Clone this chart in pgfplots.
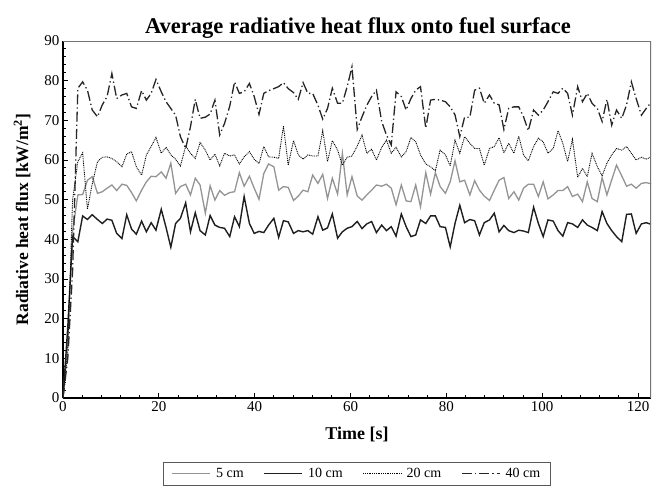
\documentclass[border=0pt]{standalone}
\usepackage{fontspec}
\setmainfont{Liberation Serif}
\usepackage{pgfplots}
\usepackage{pgfplotstable}
\pgfplotsset{compat=1.18}

% time [s], then radiative heat flux [kW/m2] at 5, 10, 20 and 40 cm
\pgfplotstableread{
t     g5    b10   d20   dd40
0.0   0     0     0     0
1.0   15    18    12    10
2.0   42    40.7  50    32
3.1   51.2  39.4  59.6  78.1
4.1   51.3  45.9  61.8  79.7
5.1   54.9  45.0  47.6  77.6
6.1   55.8  46.2  54.0  72.6
7.2   51.6  45.0  59.6  70.9
8.2   52.0  44.0  60.7  73.9
9.2   52.9  45.1  60.8  76.0
10.2  53.7  44.8  60.4  81.8
11.2  52.3  41.5  59.6  75.5
12.3  53.9  40.2  58.3  76.4
13.3  53.6  46.2  61.5  76.8
14.3  51.8  42.6  62.1  73.4
15.3  49.7  41.3  58.3  73.0
16.4  52.4  44.6  56.2  77.5
17.4  54.5  41.9  61.3  75.1
18.4  55.9  44.2  63.4  76.8
19.4  55.8  42.3  65.7  80.3
20.5  57.0  47.6  61.7  77.2
21.5  55.4  43.0  63.2  74.7
22.5  59.2  38.0  61.3  73.0
23.5  51.6  44.0  60.2  71.3
24.5  53.3  45.3  58.5  65.9
25.6  53.9  49.2  63.5  62.9
26.6  51.2  41.9  61.7  68.4
27.6  55.4  46.7  60.4  75.3
28.6  53.7  42.2  64.4  70.5
29.7  46.6  41.1  62.5  70.8
30.7  53.5  46.0  60.0  71.6
31.7  49.9  43.6  61.5  75.1
32.7  52.3  43.0  58.5  66.3
33.7  51.1  42.8  61.7  69.2
34.8  51.8  40.7  61.0  73.6
35.8  52.0  45.7  61.3  79.7
36.8  56.8  43.2  59.0  76.8
37.8  53.4  50.8  60.8  77.2
38.9  55.9  44.0  62.1  79.3
39.9  52.9  41.5  60.2  76.0
40.9  50.1  42.0  59.1  71.5
41.9  56.6  41.7  63.4  76.8
42.9  59.0  43.6  60.8  77.5
44.0  58.3  45.3  60.7  78.0
45.0  52.4  40.5  60.4  78.5
46.0  53.3  44.7  68.6  79.5
47.0  53.1  44.4  58.7  78.0
48.1  49.8  41.5  64.9  77.0
49.1  50.9  42.2  61.3  75.3
50.1  52.4  41.9  60.2  79.5
51.1  52.0  42.2  61.3  76.8
52.1  56.2  41.3  61.0  76.8
53.2  54.1  45.7  61.0  73.8
54.2  56.4  42.3  67.4  70.3
55.2  50.3  42.9  59.6  73.0
56.2  55.4  46.4  64.9  78.1
57.3  51.4  40.3  62.5  74.3
58.3  61.7  41.9  58.7  74.3
59.3  51.2  42.8  60.7  78.5
60.3  55.8  43.2  61.0  83.5
61.4  50.9  44.5  63.5  67.7
62.4  49.9  42.7  66.3  70.9
63.4  51.2  43.9  61.7  73.8
64.4  52.4  44.5  62.7  76.0
65.4  53.7  41.7  60.0  77.6
66.5  53.4  43.6  63.2  69.7
67.5  53.9  42.2  65.0  66.3
68.5  52.9  43.2  61.7  63.8
69.5  48.7  40.8  63.2  77.2
70.6  53.7  46.4  60.8  76.0
71.6  49.7  43.2  62.1  72.6
72.6  49.5  40.7  65.7  75.5
73.6  53.7  41.1  64.6  77.6
74.6  48.2  44.9  61.3  78.5
75.7  56.8  44.0  59.0  68.0
76.7  51.4  45.9  58.3  75.1
77.7  56.8  45.9  57.3  75.3
78.7  53.3  43.2  62.5  75.1
79.8  51.6  43.0  61.3  74.7
80.8  54.5  38.1  58.5  73.4
81.8  59.8  44.0  65.0  71.4
82.8  54.5  48.6  61.7  65.9
83.8  54.9  44.2  65.9  70.8
84.9  51.2  45.0  64.2  70.8
85.9  54.8  44.7  62.9  77.6
86.9  52.4  41.1  62.9  78.1
87.9  50.9  44.2  58.7  74.3
89.0  49.8  44.9  62.9  76.4
90.0  52.4  46.6  63.4  74.3
91.0  54.9  41.9  65.6  73.9
92.0  55.6  43.5  61.8  67.7
93.0  50.3  42.2  64.2  73.0
94.1  52.0  41.7  61.7  73.4
95.1  49.9  42.3  66.0  73.4
96.1  52.9  42.1  61.3  70.9
97.1  53.9  41.7  59.8  67.4
98.2  53.9  48.1  63.4  72.6
99.2  50.8  44.0  65.5  71.3
100.2 54.5  40.7  64.6  72.6
101.2 50.2  44.9  61.7  74.7
102.3 51.2  44.6  62.9  77.2
103.3 52.3  42.2  67.4  76.8
104.3 52.3  40.8  64.2  78.1
105.3 53.3  44.2  59.6  76.8
106.3 50.8  43.9  65.2  71.3
107.4 51.4  43.0  55.6  78.5
108.4 49.5  44.9  57.9  74.7
109.4 54.5  43.6  55.8  76.8
110.4 50.3  43.0  61.7  74.3
111.5 49.5  42.2  58.3  73.0
112.5 55.6  47.0  56.0  69.7
113.5 51.2  44.0  59.2  75.3
114.5 55.0  42.2  61.3  68.8
115.5 58.7  40.7  62.9  72.6
116.6 56.0  39.4  62.5  70.5
117.6 53.4  46.3  63.4  73.9
118.6 53.9  46.4  61.7  79.7
119.6 52.9  41.5  60.0  75.5
120.7 54.1  43.9  60.7  71.3
121.7 54.3  44.2  60.2  73.0
122.7 54.0  43.8  60.8  74.5
}\fluxdata

\begin{document}
\begin{tikzpicture}
\useasboundingbox (-63pt,-90pt) rectangle (603pt,398pt);
\begin{axis}[
    at={(0pt,0pt)}, anchor=south west,
    scale only axis,
    width=588pt, height=357pt,
    xmin=0, xmax=122.7,
    ymin=0, ymax=90,
    xtick={0,20,...,120},
    ytick={0,10,...,90},
    minor x tick num=4,
    minor y tick num=4,
    tick align=inside,
    major tick length=5pt,
    minor tick length=3pt,
    axis x line*=bottom,
    axis y line*=left,
    axis line style={-, line width=1.6pt, black},
    every tick/.style={black, line width=0.9pt},
    /pgf/number format/assume math mode=true,
    ticklabel style={font=\fontsize{15}{15}\selectfont},
    xlabel={Time [s]},
    ylabel={Radiative heat flux [kW/m\textsuperscript{2}]},
    xlabel style={font=\bfseries\fontsize{18}{18}\selectfont,
        at={(axis description cs:0.5,-0.1008)}, anchor=center},
    ylabel style={font=\bfseries\fontsize{17.5}{17.5}\selectfont,
        at={(axis description cs:-0.0697,0.5)}, anchor=center},
    legend style={at={(0.5,-0.179)}, anchor=north,
        draw=black!65, line width=0.8pt,
        inner ysep=4pt, inner xsep=8pt,
        font=\fontsize{14}{14}\selectfont,
        /tikz/every odd column/.append style={column sep=3pt},
        /tikz/every even column/.append style={column sep=18pt}},
    legend columns=4,
    legend image code/.code={\draw[#1] (0pt,0pt) -- (38pt,0pt);},
]
\addplot[no markers, black!42, line width=1.3pt] table[x=t, y=g5] {\fluxdata};
\addlegendentry{5 cm}
\addplot[no markers, black!88, line width=1.4pt] table[x=t, y=b10] {\fluxdata};
\addlegendentry{10 cm}
\addplot[no markers, black, line width=0.9pt, dash pattern=on 0.9pt off 0.9pt] table[x=t, y=d20] {\fluxdata};
\addlegendentry{20 cm}
\addplot[no markers, black!85, line width=1.3pt, dash pattern=on 10pt off 3pt on 1.3pt off 3pt] table[x=t, y=dd40] {\fluxdata};
\addlegendentry{40 cm}
\draw[black!55, line width=1.3pt] (rel axis cs:0,1) -- (rel axis cs:1,1) -- (rel axis cs:1,0);
\end{axis}
\node[anchor=base, font=\bfseries\fontsize{22.5}{22.5}\selectfont] at (295pt,364pt)
    {Average radiative heat flux onto fuel surface};
\end{tikzpicture}
\end{document}
